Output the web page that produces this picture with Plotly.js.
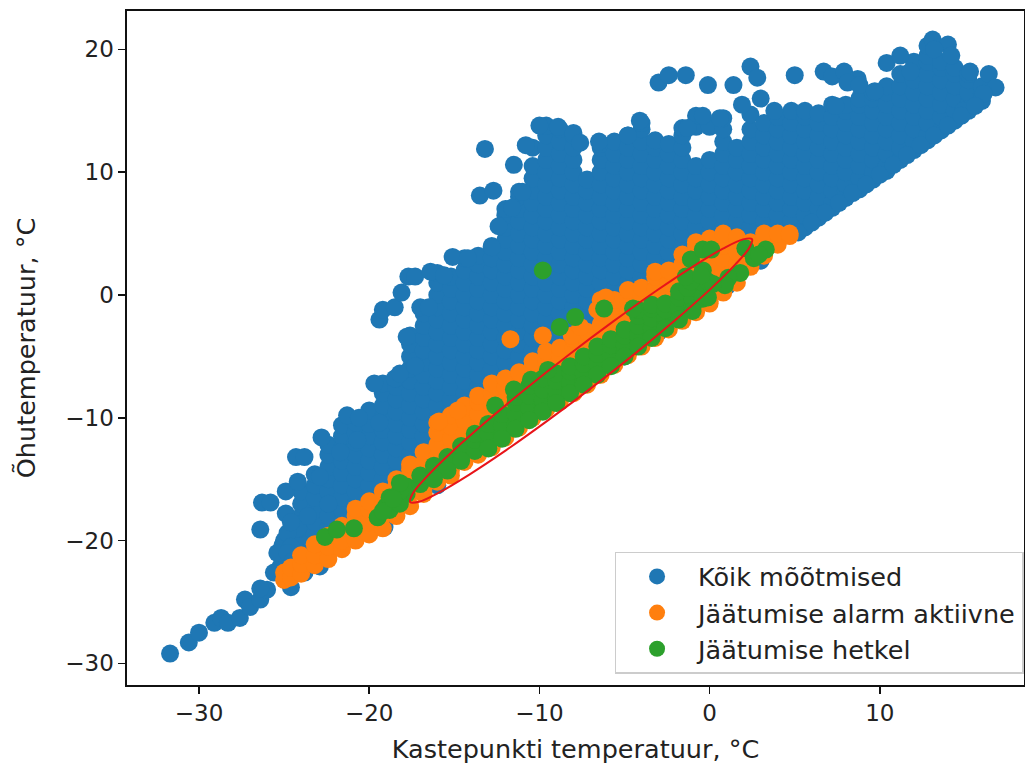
<!DOCTYPE html>
<html><head><meta charset="utf-8">
<script src="https://cdn.plot.ly/plotly-3.0.1.min.js"></script>
<style>html,body{margin:0;padding:0;background:#fff}#c{width:1025px;height:764px}</style>
</head><body><div id="c"></div>
<script>
const seriesNames = ['Kõik mõõtmised','Jäätumise alarm aktiivne','Jäätumise hetkel'];
const xLabel = 'Kastepunkti temperatuur, °C';
const yLabel = 'Õhutemperatuur, °C';

const allDewColumns = [-24,-23.2,-22.4,-21.6,-20.8,-20,-19.2,-18.4,-17.6,-16.8,-16,-15.2,-14.4,-13.6,-12.8,-12,-11.2,-10.4,-9.6,-8.8,-8,-7.2,-6.4,-5.6,-4.8,-4,-3.2,-2.4,-1.6,-0.8,0,0.8,1.6,2.4,3.2,4,4.8,5.6,6.4,7.2,8,8.8,9.6,10.4,11.2,12,12.8,13.6,14.4,15.2,16];
const allAirColumns = [
[-21,-20,-19,-18,-17,-16],
[-20.5,-19.5,-18.5,-17.5,-16.5,-15.5,-14.6],
[-19,-18,-17,-16,-15,-14,-13,-12.2],
[-18.5,-17.5,-16.5,-15.5,-14.5,-13.5,-12.5,-11.5,-10.6],
[-17,-16,-15,-14,-13,-12,-11.2,-10.4],
[-16.5,-15.5,-14.5,-13.5,-12.5,-11.5,-10.5,-9.4],
[-15,-14,-13,-12,-11,-10,-9,-8,-7.2],
[-14.5,-13.5,-12.5,-11.5,-10.5,-9.5,-8.5,-7.5,-6.8],
[-13,-12,-11,-10,-9,-8,-7,-6,-5,-4,-3.3],
[-12.5,-11.5,-10.5,-9.5,-8.5,-7.5,-6.5,-5.5,-4.5,-3.5,-2.5,-1.5],
[-10,-9,-8,-7,-6,-5,-4,-3,-2,-1,0,1,1.8],
[-9.5,-8.5,-7.5,-6.5,-5.5,-4.5,-3.5,-2.5,-1.5,-0.5,0.5,1.5],
[-9,-8,-7,-6,-5,-4,-3,-2,-1,0,1,2,3],
[-8,-7.5,-6.5,-5.5,-4.5,-3.5,-2.5,-1.5,-0.5,0.5,1.5,2.5,3.2],
[-7,-6,-5,-4,-3,-2,-1,0,1,2,3,4],
[-6.5,-5.5,-4.5,-3.5,-2.5,-1.5,-0.5,0.5,1.5,2.5,3.5,4.5,5.5,6.5,7],
[-6,-5,-4,-3,-2,-1,0,1,2,3,4,5,6,7,8,8.4],
[-5.5,-4.5,-3.5,-2.5,-1.5,-0.5,0.5,1.5,2.5,3.5,4.5,5.5,6.5,7.5,8.5,9.5,10.5,12],
[-4,-3,-2,-1,0,1,2,3,4,5,6,7,8,9,10,11,12,13,13.8],
[-4,-3.5,-2.5,-1.5,-0.5,0.5,1.5,2.5,3.5,4.5,5.5,6.5,7.5,8.5,9.5,10.5,11.5,12.5,13.5],
[-3,-2,-1,0,1,2,3,4,5,6,7,8,9,10,11,12,13],
[-3,-2.5,-1.5,-0.5,0.5,1.5,2.5,3.5,4.5,5.5,6.5,7.5,8.5,9.4],
[-1,0,1,2,3,4,5,6,7,8,9,10,11,12,12.3],
[-0.5,0.5,1.5,2.5,3.5,4.5,5.5,6.5,7.5,8.5,9.5,10.5,11.5,12.5],
[0,1,2,3,4,5,6,7,8,9,10,11,12,13],
[0.5,1.5,2.5,3.5,4.5,5.5,6.5,7.5,8.5,9.5,10.5,11.5,12.5,13.5,14],
[2,3,4,5,6,7,8,9,10,11,12,12.6],
[1.5,2.5,3.5,4.5,5.5,6.5,7.5,8.5,9.5,10.5,11.5,12.3],
[3,4,5,6,7,8,9,10,11,12,13,13.6],
[3.5,4.5,5.5,6.5,7.5,8.5,9.5,10.5,13.7,14.6],
[4,5,6,7,8,9,10,11,13.7],
[4.5,5.5,6.5,7.5,8.5,9.5,10.5,11.5,12.5,13.5,14.4],
[4,5,6,7,8,9,10,11,12],
[4.5,5.5,6.5,7.5,8.5,9.5,10.5,11.5,12.5,13.5,14.7],
[5,6,7,8,9,10,11,12,13,14],
[5.5,6.5,7.5,8.5,9.5,10.5,11.5,12.5,13.5,14.5],
[5,6,7,8,9,10,11,12,13,14,15],
[5.5,6.5,7.5,8.5,9.5,10.5,11.5,12.5,13.5,14.5,15],
[6.3,7,8,9,10,11,12,13,14,14.8],
[7.1,7.5,8.5,9.5,10.5,11.5,12.5,13.5,14.5,15.5],
[7.9,8.5,9,10,11,12,13,14,15,15.5],
[8.6,9.5,10.5,11.5,12.5,13.5,14.5,15.5,16],
[9.4,10,11,12,13,14,15,16,16.5],
[10.1,10.5,11.5,12.5,13.5,14.5,15.5,16.5,17],
[11,12,13,14,15,16,17,18],
[11.8,12.5,13.5,14.5,15.5,16.5,17.5,18.5,19],
[12.6,13,14,15,16,17,18,19,19.5],
[13.4,14.5,15.5,16.5,17.5,18.5,19],
[14.2,15,16,17,18,18.5],
[15,15.5,16.5,17.5,18],
[15.8,16.4,17]
];
const allDewExtra = [-31.7,-30.6,-30,-29.1,-28.7,-28.3,-27.6,-27.3,-27,-26.4,-26,-26.4,-25.6,-25.2,-24.6,-23.8,-22.9,-22.5,-21.9,-19.1,-25.1,-26.4,-26.3,-25.8,-24.9,-24.9,-24.2,-24.3,-23.8,-22.8,-22.9,-21.7,-21.3,-20.6,-20.7,-19.4,-19.7,-18.5,-17.8,-19.4,-19.2,-18.5,-18.1,-17.7,-17.3,-16.4,-15.6,-15.1,-14.2,-12.8,-12.4,-11.6,-11,-13.5,-12.7,-11.5,-13.2,-10.8,-10,-8.9,-8,-7.6,-6.5,-4.8,-4.1,-3,-2.4,-1.4,-0.1,1.4,2.4,2.8,5,3,1.9,3.8,-0.4,0.6,-1.3,6.7,7.2,7.9,8.7,8.1,8.8,7.4,9.7,10.4,11.2,11.8,12.8,13.1,14,14.2,13.2,15.3,16.4,16.8,16.1,14.9,-16,-13,-9,-7,-5,-3,-1,1,3,-25,-24.2,-23.6,-22.4,-25.4,-24.8,-24.6,-24.6,-24.8,-24.5,-18.2,-17.3,-17,-16.5,5.2,6,6.8,7.6,8.4,9.2,10,10.8,11.6,12.4,13.2,14,14.8,15.6];
const allAirExtra = [-29.2,-28.3,-27.5,-26.7,-26.3,-26.7,-26.3,-24.8,-25.4,-24.8,-24,-23.9,-22.6,-22.1,-23.8,-22.6,-22.1,-21.4,-20.5,-18.9,-20.4,-19.1,-16.9,-16.9,-16,-17.8,-15.2,-13.2,-13.2,-11.6,-14.8,-12.8,-9.8,-10,-11.8,-10.4,-7.2,-6.8,-3.4,-2,-1.2,-1,0.2,1.5,1.5,1.9,1.6,3.1,3,3.9,5.6,7.1,8.4,8.1,8.5,10.6,11.9,12.2,13.8,13.7,13.2,12.4,12.5,13,14.2,17.3,17.9,17.9,17.1,17.1,18.6,17.7,17.9,16,15.5,15,14.6,14.4,13.6,18.2,17.8,18.2,17.6,17.3,17.1,15.4,16.6,18.9,19.5,18.2,20.3,20.8,20.4,19.5,20,18.2,18,16.9,16.4,15,-15.5,-12.2,-8.7,-6.7,-5,-3,-1.1,0.7,2.8,-20,-19,-18,-17,-21,-19.4,-20.5,-18.5,-21,-21.7,-6.4,-5.8,-1,-1,5.1,5.9,6.7,7.5,8.3,9,9.8,10.6,11.4,12.2,13,13.8,14.6,15.4];

const alarmDewColumns = [-25,-24.6,-24,-23.2,-22.4,-21.6,-20.8,-20,-19.2,-18.4,-17.6,-16.8,-16,-15.2,-14.4,-13.6,-12.8,-12,-11.2,-10.4,-9.6,-8.8,-8,-7.2,-6.4,-5.6,-4.8,-4,-3.2,-2.4,-1.6,-0.8,0,0.8,1.6,2.4,3.2,4,4.7];
const alarmAirColumns = [
[-23.2,-22.6],[-23,-22.2],[-22.7,-21.9,-21.2],[-22,-21.2,-20.3],[-21.5,-20.5,-19.6],[-20.7,-20,-19,-18.8],
[-20,-19,-18,-17.4],[-19.5,-18.5,-17.5,-16.8],[-19,-18,-17,-16],[-18,-17.5,-16.5,-15.5,-15],
[-17.2,-16.2,-15.2,-14.2,-13.8],[-16.2,-15.7,-14.7,-13.7,-12.8],[-15.2,-14.2,-13.2,-12.2,-11.2,-10.4],
[-14.3,-13.7,-12.7,-11.7,-10.7,-9.8],[-13.2,-12.2,-11.2,-10.2,-9.2,-9],[-12.6,-11.7,-10.7,-9.7,-8.7,-8.2],
[-12,-11,-10,-9,-8,-7.2],[-11.2,-10.5,-9.5,-8.5,-7.5,-6.8],[-10.4,-9.4,-8.4,-7.4,-6.3],[-9.6,-8.9,-7.9,-6.9,-5.9,-5.4],
[-8.9,-8.4,-7.4,-6.4,-5.4,-4.6],[-8.4,-7.9,-6.9,-5.9,-4.9,-4.3],[-7.7,-7.4,-6.4,-5.4,-4.4,-3.6],[-7,-6.9,-5.9,-4.9,-3.9,-3],
[-6.2,-5.4,-4.4,-3.4,-2.4,-1.4,-0.4],[-5.4,-4.9,-3.9,-2.9,-1.9,-0.9,-0.4],[-4.7,-4.4,-3.4,-2.4,-1.4,-0.4,0.4],
[-4,-3,-2,-1,0,0.6],[-3.3,-2.5,-1.5,-0.5,0.5,1.5,1.9],[-2.5,-2,-1,0,1,2],[-1.9,-1.5,-0.5,0.5,1.5,2.5,3.3],
[-1.2,-1,0,1,2,3,4,4.3],[-0.5,0.5,1.5,2.5,3.5,4.6],[0.2,1,2,3,4,5],[1,1.5,2.5,3.5,4.5,4.7],
[2.3,3,4,4.3],[3.2,3.5,4.5,5],[4.1,5],[4.8,5]
];
const alarmDewExtra = [-11.7,-9.8,-8.1,-6.6,-6.1,-15.9,-14.8,-7.6,-15.2,-14.4,-13.6,-12.8,-12,-11.2,-10.4,-9.6,-8.8,-8,-7.2,-6.4,-5.6,-4.8,-4,-3.2,-2.4,-1.6,-0.8,0];
const alarmAirExtra = [-3.6,-3.3,-3.3,-1.2,-0.2,-10.3,-9.4,-2.6,-14.7,-13.6,-13,-12.4,-11.6,-10.8,-10,-9.3,-8.7,-8,-7.3,-6.5,-5.7,-4.9,-4.2,-3.5,-2.8,-2.1,-1.4,-0.7];

const frostDewColumns = [-17.8,-17,-16.2,-15.4,-14.6,-13.8,-13,-12.2,-11.4,-10.6,-9.8,-9,-8.2,-7.4,-6.6,-5.8,-5,-4.2,-3.4,-2.6,-1.8,-1,-0.4];
const frostAirColumns = [
[-16.2,-15.6],[-15.4,-14.7],[-14.6,-13.9],[-14,-13.2],[-13.2,-12.3],[-12.7,-11.8,-11.3],
[-12.2,-11.3,-10.5],[-11.4,-10.6,-9.7],[-10.6,-9.7,-8.8,-8.3],[-9.9,-9.2,-8.2,-7.4],[-9.2,-8.6,-7.7,-6.8],[-8.4,-7.8,-7,-6.4],
[-7.7,-7.1,-6.2,-5.8],[-7,-6.4,-5.6,-5],[-6.2,-5.6,-4.8,-4.2],[-5.5,-4.9,-4.1,-3.6],[-4.7,-4.1,-3.3,-2.8],[-3.9,-3.3,-2.5,-1.7,-1.2],
[-3.2,-2.7,-1.9,-1.1,-0.8],[-2.5,-1.9,-1.2,-0.7],[-1.7,-1,-0.2,0.3],[-1,-0.3,0.6],[-0.3,0.3,1]
];
const frostDewExtra = [-9.8,-8.8,-7.9,-6.2,-22.6,-21.9,-20.9,-19.5,-19,-18.8,-18.8,-18.2,-18.2,-18.2,-12.6,-11.5,-10.5,-9.5,-4.5,-1.1,-0.4,0.1,2.1,2.6,3.3,2.9,1.8,1.1,-0.4,-1.3,-0.1,-1.1,-0.1,0.9,0.2,-19.2,-18.6,-1.4,-0.5,-13,-11.4,-9.8,-8.2,-6.6,-5,-3.4,-4.2,-2.6,-1.8,-1,-5.8,-7.4,-9,-10.6,-12.2,-14.6,-15.4,-16.2];
const frostAirExtra = [2,-2.6,-1.8,-1.1,-19.7,-19.1,-19,-18.1,-17.2,-17.5,-16.5,-17,-16,-15.3,-9,-7.7,-6.9,-6.1,-1.1,2.9,3.7,3.7,3.8,3,3.7,3.3,1.8,1.4,2,0.6,1.1,1.1,-0.2,0.8,0.9,-17.6,-16.6,1.5,1.6,-12.5,-10.9,-9.5,-8,-6.5,-5,-3.5,-4.2,-2.7,-2,-1.3,-5.8,-7.3,-8.8,-10.2,-11.7,-13.5,-14.3,-15];

const ellipseDew = [2.49,1.96,0.78,-0.96,-3.15,-5.64,-8.27,-10.84,-13.19,-15.16,-16.6,-17.44,-17.59,-17.07,-15.88,-14.14,-11.95,-9.46,-6.83,-4.26,-1.91,0.06,1.5,2.34,2.49];
const ellipseAir = [4.56,4.53,3.77,2.34,0.33,-2.13,-4.86,-7.67,-10.39,-12.8,-14.77,-16.16,-16.86,-16.83,-16.07,-14.64,-12.63,-10.17,-7.44,-4.63,-1.91,0.5,2.47,3.87,4.56];

function expand(cols, rows, ex){ const out=[]; cols.forEach((c,i)=>rows[i].forEach(()=>out.push(c))); return out.concat(ex); }
function flat(rows, ex){ return rows.flat().concat(ex); }

const tickFont = {family:'DejaVu Sans', color:'#222', size:23};
const bigFont = {family:'DejaVu Sans', color:'#222', size:25.5};
const common = {mode:'markers', type:'scatter', hoverinfo:'skip'};
const traces = [
 {...common, name:seriesNames[0], legendgroup:'a', x:expand(allDewColumns,allAirColumns,allDewExtra), y:flat(allAirColumns,allAirExtra), marker:{color:'#1f77b4',size:18}},
 {...common, name:seriesNames[1], legendgroup:'b', x:expand(alarmDewColumns,alarmAirColumns,alarmDewExtra), y:flat(alarmAirColumns,alarmAirExtra), marker:{color:'#ff7f0e',size:18}},
 {...common, name:seriesNames[2], legendgroup:'c', x:expand(frostDewColumns,frostAirColumns,frostDewExtra), y:flat(frostAirColumns,frostAirExtra), marker:{color:'#2ca02c',size:18}},
 {type:'scatter', mode:'lines', x:ellipseDew, y:ellipseAir, showlegend:false, hoverinfo:'skip', line:{color:'#e8141a',width:2,shape:'spline',smoothing:1}}
];
const ax = {showgrid:false, zeroline:false, showline:true, mirror:true, linecolor:'#111', linewidth:1.6, ticks:'outside', ticklen:7, tickwidth:1.5, tickcolor:'#111', tickfont:tickFont, automargin:false};
const layout = {
 width:1025, height:764, margin:{l:127,r:1,t:11,b:79}, paper_bgcolor:'#fff', plot_bgcolor:'#fff', font:tickFont,
 showlegend:true,
 xaxis:{...ax, range:[-34.23,18.47], tickvals:[-30,-20,-10,0,10], title:{text:xLabel, font:bigFont, standoff:16}},
 yaxis:{...ax, range:[-31.76,23.13], tickvals:[-30,-20,-10,0,10,20], title:{text:yLabel, font:bigFont, standoff:22}},
 legend:{x:0.9995, xanchor:'right', y:0.0165, yanchor:'bottom', bgcolor:'rgba(255,255,255,0.8)', bordercolor:'#ccc', borderwidth:1.5, font:bigFont, tracegroupgap:7, traceorder:'normal', itemwidth:72}
};
Plotly.newPlot('c', traces, layout, {displayModeBar:false, staticPlot:true});
</script></body></html>
